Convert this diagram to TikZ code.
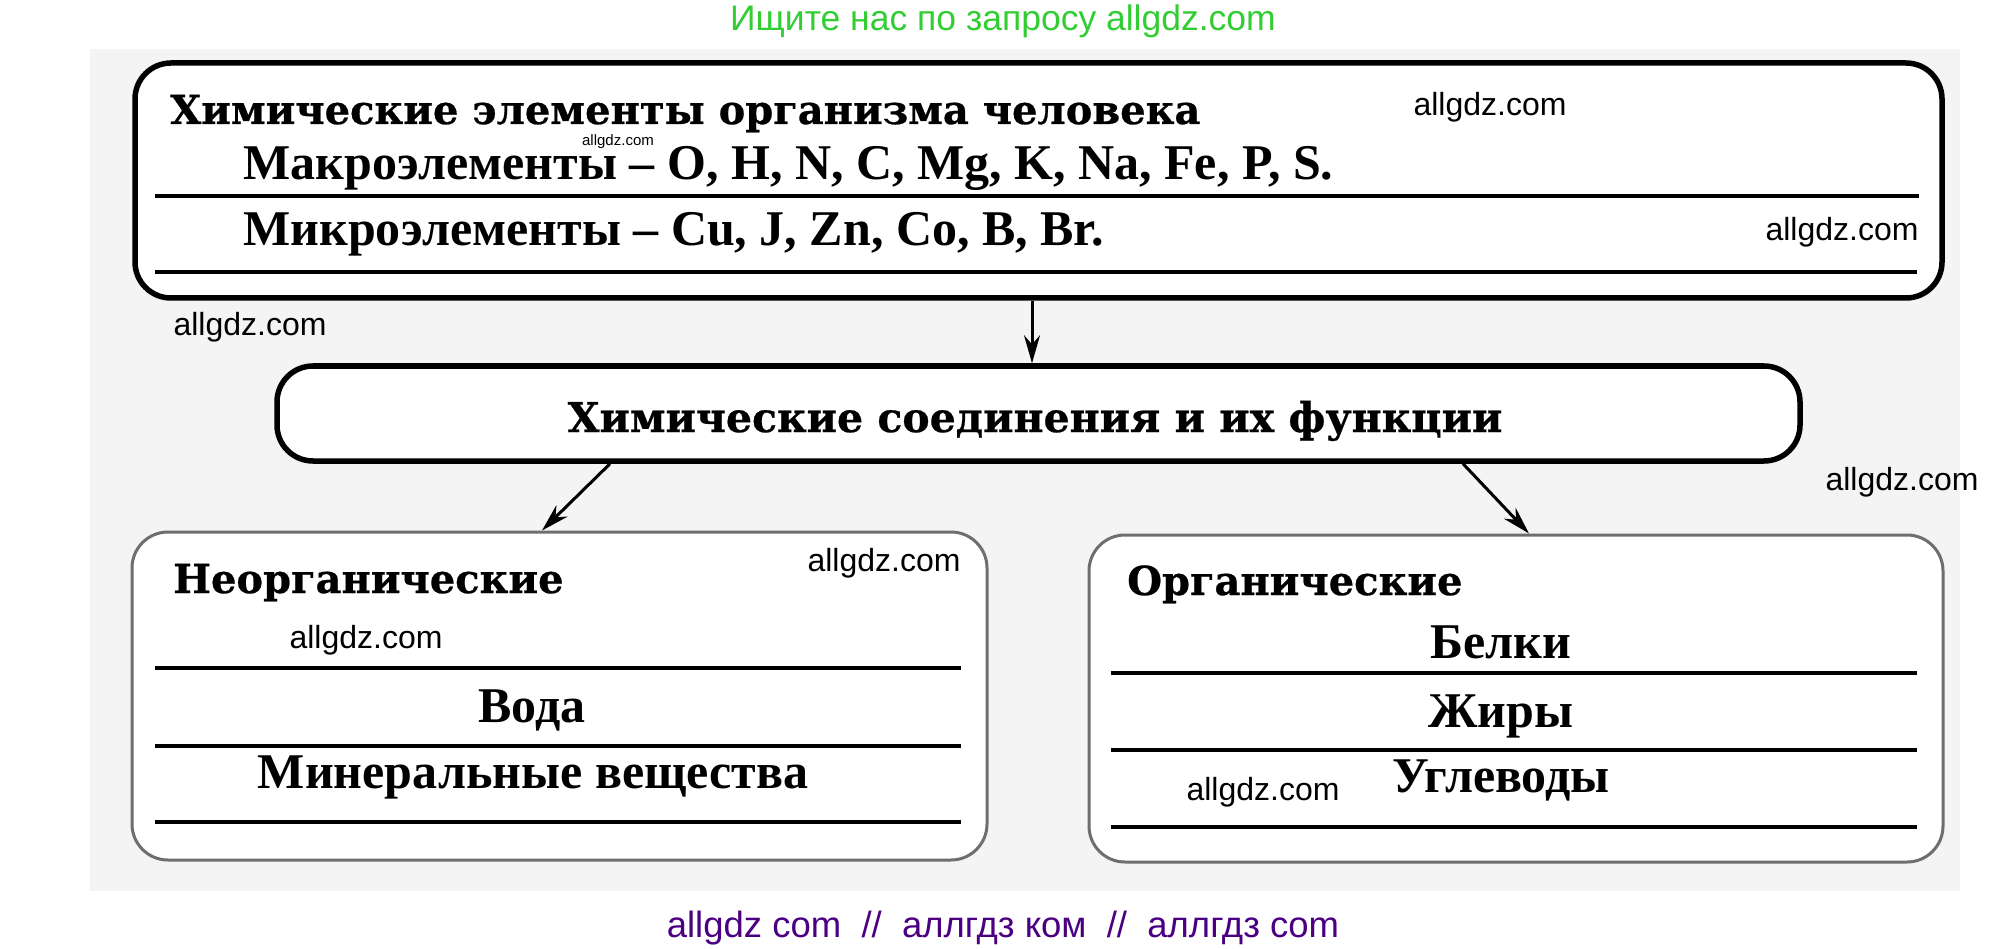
\documentclass[tikz,border=0pt]{standalone}
\usepackage{fontspec}
\setmainfont{Liberation Serif}
\newfontfamily\hdfont[BoldFeatures={FakeBold=0.6}]{DejaVu Serif}
\newfontfamily\wmfont{Liberation Sans}
\usetikzlibrary{arrows.meta}
\definecolor{pagegray}{RGB}{244,244,244}
\definecolor{wmgreen}{RGB}{50,205,50}
\definecolor{wmpurple}{RGB}{75,0,130}
\definecolor{boxgray}{RGB}{110,110,110}
\tikzset{
  bigbox/.style={draw, line width=5.5pt, rounded corners=36pt, fill=white, inner sep=0pt},
  smallbox/.style={draw=boxgray, line width=3pt, rounded corners=36pt, fill=white, inner sep=0pt},
  rulerline/.style={line width=4pt},
  hd/.style={font=\hdfont\bfseries\fontsize{40}{46}\selectfont, inner sep=0pt},
  body/.style={font=\bfseries\fontsize{50}{56}\selectfont, inner sep=0pt},
  wm/.style={font=\wmfont\fontsize{32}{36}\selectfont, inner sep=0pt},
  arr/.style={line width=3pt, -{Stealth[length=28pt,width=16pt]}},
}
\begin{document}
\begin{tikzpicture}[x=1pt,y=-1pt]
\useasboundingbox (0,0) rectangle (1999,949);
\fill[pagegray] (90,49) rectangle (1960,891);

% boxes
\node[bigbox, minimum width=1807pt, minimum height=235pt] (top) at (1038.5,180.5) {};
\node[bigbox, minimum width=1523pt, minimum height=95pt] (mid) at (1038.5,413.5) {};
\node[smallbox, minimum width=855pt, minimum height=328pt] (inorg) at (559.5,696) {};
\node[smallbox, minimum width=854pt, minimum height=327pt] (org) at (1516,698.5) {};

% rules in boxes
\draw[rulerline] (155,196) -- (1919,196);
\draw[rulerline] (155,272) -- (1917,272);
\draw[rulerline] (155,668) -- (961,668);
\draw[rulerline] (155,746) -- (961,746);
\draw[rulerline] (155,822) -- (961,822);
\draw[rulerline] (1111,673) -- (1917,673);
\draw[rulerline] (1111,750) -- (1917,750);
\draw[rulerline] (1111,827) -- (1917,827);

% connectors
\draw[arr] ([xshift=-6.5pt]top.south) -- ([xshift=-6.5pt]mid.north);
\draw[arr] ([xshift=-428.5pt]mid.south) -- ([xshift=-17.5pt]inorg.north);
\draw[arr] ([xshift=424.5pt]mid.south) -- ([xshift=13pt]org.north);

% texts
\node[hd, font=\hdfont\bfseries\fontsize{40}{46}\selectfont, anchor=base west] (t1) at (170,124) {Химические элементы организма человека};
\node[body, anchor=base west] (t2) at (243,180) {Макроэлементы – O, H, N, C, Mg, K, Na, Fe, P, S.};
\node[body, anchor=base west] (t3) at (243,246) {Микроэлементы – Cu, J, Zn, Co, B, Br.};
\node[hd, font=\hdfont\bfseries\fontsize{41}{46}\selectfont, anchor=base] (t4) at (1035,432) {Химические соединения и их функции};
\node[hd, anchor=base west] (t5) at (173,593) {Неорганические};
\node[body, anchor=base] (t6) at (532,722) {Вода};
\node[body, anchor=base] (t7) at (533,788) {Минеральные вещества};
\node[hd, anchor=base west] (t8) at (1127,595) {Органические};
\node[body, anchor=base] (t9) at (1501,658) {Белки};
\node[body, anchor=base] (t10) at (1501,727) {Жиры};
\node[body, anchor=base] (t11) at (1501,792) {Углеводы};

% watermarks
\node[wm] (w1) at (1490,107) {allgdz.com};
\node[wm] (w2) at (1842,232) {allgdz.com};
\node[wm] (w3) at (250,327) {allgdz.com};
\node[wm] (w4) at (884,563) {allgdz.com};
\node[wm] (w5) at (366,640) {allgdz.com};
\node[wm] (w6) at (1902,482) {allgdz.com};
\node[wm] (w7) at (1263,792) {allgdz.com};
\node[wm, font=\wmfont\fontsize{15}{17}\selectfont] (w8) at (618,142) {allgdz.com};
\node[wm, font=\wmfont\fontsize{35.5}{40}\selectfont, text=wmgreen] (g) at (1003,21) {Ищите нас по запросу allgdz.com};
\node[wm, font=\wmfont\fontsize{36.5}{40}\selectfont, text=wmpurple] (p) at (1003,928) {allgdz com~~//~~аллгдз ком~~//~~аллгдз com};
\end{tikzpicture}
\end{document}
